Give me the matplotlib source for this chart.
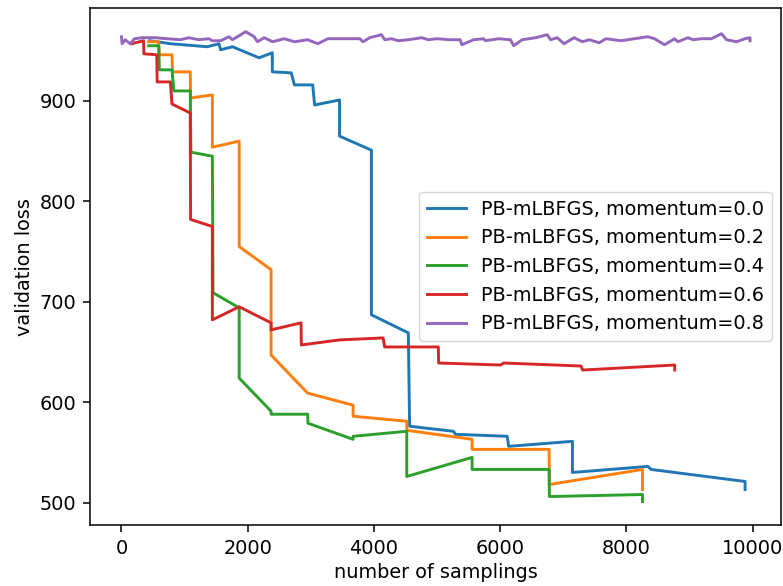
import matplotlib
matplotlib.use("Agg")
import matplotlib.pyplot as plt

# values
labels = ["PB-mLBFGS, momentum=0.0", "PB-mLBFGS, momentum=0.2",
          "PB-mLBFGS, momentum=0.4", "PB-mLBFGS, momentum=0.6",
          "PB-mLBFGS, momentum=0.8"]

x_m00 = [450, 780, 1170, 1360, 1545, 1570, 1760, 2180, 2390, 2390, 2690, 2740,
         3030, 3060, 3455, 3455, 3960, 3960, 4545, 4565, 5260, 5290, 6110, 6135,
         7145, 7145, 8340, 8390, 9880, 9880]
y_m00 = [960, 957, 955, 954, 957, 951, 954, 943, 948, 929, 928, 916,
         916, 896, 901, 865, 851, 687, 669, 576, 571, 568, 566, 556,
         561, 530, 536, 533, 521, 513]

x_m02 = [430, 590, 600, 800, 810, 1090, 1095, 1440, 1440, 1865, 1865, 2370,
         2370, 2950, 3670, 3670, 4520, 4520, 5555, 5555, 6775, 6780, 8255, 8255]
y_m02 = [959, 959, 946, 946, 929, 929, 903, 906, 854, 860, 755, 732,
         647, 609, 597, 586, 581, 572, 563, 553, 553, 518, 533, 513]

x_m04 = [430, 590, 600, 800, 830, 1090, 1100, 1440, 1450, 1865, 1865, 2370,
         2370, 2950, 2955, 3670, 3670, 4520, 4520, 5555, 5555, 6775, 6780,
         8255, 8255]
y_m04 = [955, 955, 931, 931, 910, 910, 849, 845, 709, 694, 624, 591,
         588, 588, 579, 563, 566, 571, 526, 545, 533, 533, 506,
         508, 501]

x_m06 = [160, 350, 355, 560, 565, 775, 800, 1090, 1095, 1440, 1440, 1865,
         2370, 2370, 2845, 2850, 3455, 4145, 4170, 5020, 5025, 6005, 6055,
         7280, 7305, 8765, 8765]
y_m06 = [957, 960, 947, 946, 919, 919, 897, 888, 782, 775, 682, 695,
         679, 672, 679, 657, 662, 664, 655, 655, 639, 637, 639,
         636, 632, 637, 632]

x_m08 = [0, 10, 59, 138, 207, 324, 535, 720, 933, 1067, 1226, 1385, 1438,
         1571, 1704, 1757, 1969, 2102, 2155, 2261, 2394, 2580, 2739, 2951,
         3110, 3270, 3482, 3641, 3774, 3827, 3933, 4118, 4172, 4278, 4384,
         4543, 4756, 4862, 4995, 5207, 5366, 5393, 5578, 5737, 5764, 5977,
         6162, 6215, 6348, 6560, 6746, 6799, 6905, 7011, 7170, 7304, 7410,
         7569, 7675, 7914, 8126, 8339, 8445, 8604, 8763, 8816, 8975, 9054,
         9188, 9347, 9506, 9586, 9745, 9878, 9958, 9958]
y_m08 = [964, 957, 961, 957, 962, 963, 963, 962, 961, 963, 961, 962, 960,
         960, 964, 961, 969, 964, 959, 963, 959, 962, 959, 961,
         957, 962, 962, 962, 962, 959, 963, 966, 961, 962, 960,
         961, 963, 961, 962, 961, 961, 956, 961, 962, 960, 962,
         961, 955, 961, 963, 966, 961, 963, 957, 963, 959, 961,
         958, 962, 960, 962, 964, 962, 956, 962, 959, 963, 961,
         962, 962, 967, 961, 959, 962, 963, 960]

series = [(x_m00, y_m00), (x_m02, y_m02), (x_m04, y_m04),
          (x_m06, y_m06), (x_m08, y_m08)]

# the reference looks like a default figure rendered at ~139 dpi
plt.rcParams["font.size"] = 13.9
plt.rcParams["axes.linewidth"] = 1.1
for k in ("xtick", "ytick"):
    plt.rcParams[k + ".major.size"] = 4.9
    plt.rcParams[k + ".major.width"] = 1.1
    plt.rcParams[k + ".major.pad"] = 4.9

fig = plt.figure(figsize=(7.83, 5.86), dpi=100)
ax = fig.add_subplot(111)
fig.subplots_adjust(left=0.115, right=0.998, bottom=0.104, top=0.986)

for (xs, ys), lab in zip(series, labels):
    ax.plot(xs, ys, linewidth=2.1, label=lab)

ax.set_xlabel("number of samplings")
ax.set_ylabel("validation loss")
ax.legend(loc="center right")

fig.savefig("out.png", dpi=100)
